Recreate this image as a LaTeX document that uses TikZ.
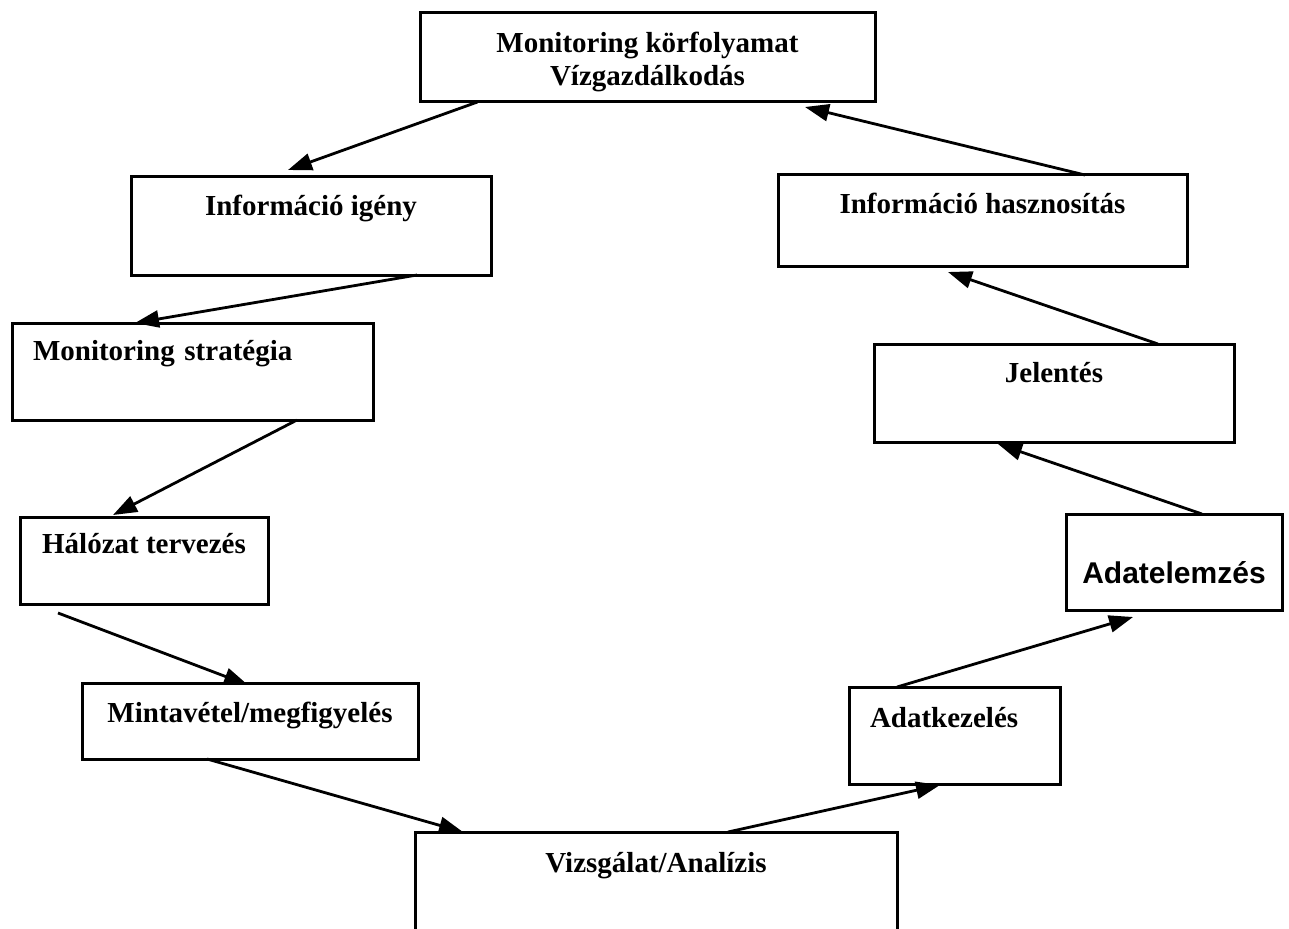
\documentclass[tikz,border=0pt]{standalone}
\usepackage{fontspec}
\setmainfont{Liberation Serif}
\newfontfamily\arialfont{Liberation Sans}
\usetikzlibrary{arrows.meta}

\begin{document}
\begin{tikzpicture}[x=1pt,y=-1pt,font=\fontsize{29}{33}\selectfont\bfseries,
       box/.style={draw,line width=3pt,anchor=north,inner xsep=0pt,inner ysep=0pt,outer sep=0pt,align=center},
       flow/.style={-{Triangle[length=24pt,width=17pt]},line width=2.8pt}]
      \useasboundingbox (0,0) rectangle (1289,928);
      \node[box,minimum width=455pt,text height=73pt,text depth=16pt] (kor) at (647.5,13) {Monitoring körfolyamat\\Vízgazdálkodás};
      \node[box,minimum width=360pt,text height=38pt,text depth=60pt] (igeny) at (311,177) {Információ igény};
      \node[box,minimum width=409pt,text height=38pt,text depth=53pt] (hasznositas) at (982.5,175) {Információ hasznosítás};
      \node[box,align=left,text width=319pt,inner xsep=21pt,text height=37pt,text depth=60pt] (strategia) at (192.5,323) {Monitoring stratégia};
      \node[box,minimum width=360pt,text height=38pt,text depth=60pt] (jelentes) at (1054,344) {Jelentés};
      \node[box,minimum width=248pt,text height=36pt,text depth=51pt] (halozat) at (144,517) {Hálózat tervezés};
      \node[box,minimum width=216pt,text height=69pt,text depth=27pt,font=\arialfont\fontsize{30}{36}\selectfont\bfseries] (adatelemzes) at (1174,514) {Adatelemzés};
      \node[box,minimum width=336pt,text height=39pt,text depth=37pt] (mintavetel) at (250,683) {Mintavétel/megfigyelés};
      \node[box,align=left,text width=169pt,inner xsep=21pt,text height=40pt,text depth=57pt] (adatkezeles) at (954.5,687) {Adatkezelés};
      \node[box,minimum width=482pt,text height=40pt,text depth=58pt] (vizsgalat) at (656,832) {Vizsgálat/Analízis};
      % left side, going down
      \draw[flow] ([xshift=-170pt]kor.south) -- ([xshift=-23pt,yshift=7pt]igeny.north);
      \draw[flow] ([xshift=106pt]igeny.south) -- ([xshift=-57.5pt]strategia.north);
      \draw[flow] ([xshift=104.5pt]strategia.south) -- ([xshift=-31pt,yshift=2pt]halozat.north);
      \draw[flow] ([xshift=-86pt,yshift=-9pt]halozat.south) -- ([xshift=-2pt,yshift=-2pt]mintavetel.north);
      \draw[flow] ([xshift=-43pt]mintavetel.south) -- ([xshift=-193pt]vizsgalat.north);
      % right side, going up
      \draw[flow] ([xshift=72pt]vizsgalat.north) -- ([xshift=-14.5pt,yshift=-1pt]adatkezeles.south);
      \draw[flow] ([xshift=-57.5pt]adatkezeles.north) -- ([xshift=-41pt,yshift=-7pt]adatelemzes.south);
      \draw[flow] ([xshift=28pt]adatelemzes.north) -- ([xshift=-56pt,yshift=-2pt]jelentes.south);
      \draw[flow] ([xshift=104pt]jelentes.north) -- ([xshift=-34.5pt,yshift=-6pt]hasznositas.south);
      \draw[flow] ([xshift=102.5pt]hasznositas.north) -- ([xshift=157.5pt,yshift=-5pt]kor.south);
    \end{tikzpicture}
\end{document}
